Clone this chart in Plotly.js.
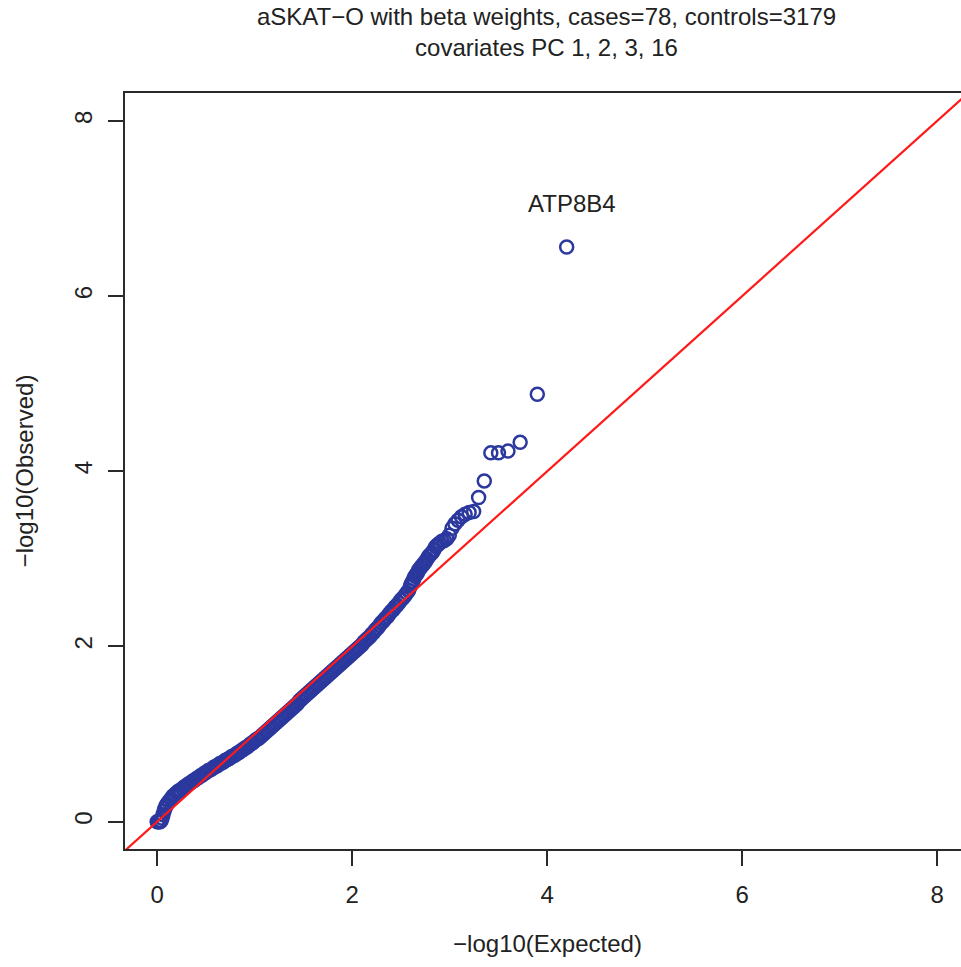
<!DOCTYPE html>
<html>
<head>
<meta charset="utf-8">
<script src="https://cdn.plot.ly/plotly-3.0.1.min.js"></script>
<style>
html, body { margin: 0; padding: 0; overflow: hidden; background: #fff; }
#chart { width: 975px; height: 967px; }
</style>
</head>
<body>
<div id="chart"></div>
<script>
// Dense part of the QQ band: expected vs observed -log10(p)
const denseExpected = [
  0.00,0.01,0.02,0.03,0.04,0.05,0.06,0.07,0.08,0.09,
  0.10,0.12,0.14,0.16,0.18,
  0.20,0.22,0.24,0.26,0.28,0.30,0.32,0.34,0.36,0.38,
  0.40,0.42,0.44,0.46,0.48,0.50,0.52,0.54,0.56,0.58,
  0.60,0.62,0.64,0.66,0.68,0.70,0.72,0.74,0.76,0.78,
  0.80,0.82,0.84,0.86,0.88,0.90,0.92,0.94,0.96,0.98,
  1.00,1.02,1.04,1.06,1.08,1.10,1.12,1.14,1.16,1.18,
  1.20,1.22,1.24,1.26,1.28,1.30,1.32,1.34,1.36,1.38,
  1.40,1.42,1.44,1.46,1.48,1.50,1.52,1.54,1.56,1.58,
  1.60,1.62,1.64,1.66,1.68,1.70,1.72,1.74,1.76,1.78,
  1.80,1.82,1.84,1.86,1.88,1.90,1.92,1.94,1.96,1.98,
  2.00,2.02,2.04,2.06,2.08,2.10,2.12,2.14,2.16,2.18,
  2.20,2.22,2.24,2.26,2.28,2.30,2.32,2.34,2.36,2.38,
  2.40,2.42,2.44,2.46,2.48,2.50,2.52,2.54,2.56,2.58
];
const denseObserved = [
  0.00,0.00,0.00,0.00,0.01,0.04,0.08,0.12,0.15,0.18,
  0.20,0.23,0.26,0.29,0.31,
  0.33,0.35,0.36,0.38,0.40,0.41,0.43,0.44,0.46,0.47,
  0.49,0.50,0.52,0.53,0.55,0.56,0.58,0.59,0.60,0.62,
  0.63,0.64,0.66,0.67,0.68,0.70,0.71,0.72,0.74,0.75,
  0.76,0.78,0.79,0.81,0.82,0.84,0.85,0.87,0.89,0.90,
  0.92,0.94,0.95,0.97,0.99,1.01,1.03,1.05,1.07,1.09,
  1.11,1.13,1.15,1.17,1.19,1.21,1.23,1.25,1.27,1.29,
  1.31,1.33,1.35,1.38,1.40,1.42,1.44,1.46,1.48,1.50,
  1.52,1.54,1.56,1.58,1.60,1.62,1.64,1.66,1.68,1.70,
  1.72,1.74,1.76,1.78,1.80,1.82,1.84,1.86,1.88,1.90,
  1.92,1.94,1.96,1.98,2.00,2.02,2.05,2.07,2.09,2.11,
  2.14,2.16,2.19,2.21,2.24,2.27,2.29,2.32,2.34,2.37,
  2.40,2.42,2.45,2.47,2.50,2.53,2.55,2.58,2.61,2.64
];
// Top-ranked genes (rank 1..40)
const tailExpected = [
  4.200,3.899,3.723,3.598,3.501,3.422,3.355,3.297,3.246,3.200,
  3.159,3.121,3.086,3.054,3.024,2.996,2.970,2.945,2.921,2.899,
  2.878,2.858,2.838,2.820,2.802,2.785,2.769,2.753,2.738,2.723,
  2.709,2.695,2.681,2.669,2.656,2.644,2.632,2.620,2.609,2.598
];
const tailObserved = [
  6.56,4.88,4.33,4.23,4.21,4.21,3.89,3.70,3.54,3.53,
  3.51,3.48,3.44,3.40,3.35,3.27,3.23,3.21,3.20,3.18,
  3.16,3.14,3.10,3.07,3.05,3.03,3.00,2.97,2.95,2.93,
  2.91,2.89,2.87,2.84,2.82,2.80,2.77,2.74,2.72,2.69
];
const topGene = "ATP8B4";
const topGeneLabelPos = [4.25, 7.06];
const identityLine = [-1, 10];
const tickVals = [0, 2, 4, 6, 8];
const tickText = ["0", "2", "4", "6", "8"];

const ptColor = "#2b389e";
const axisColor = "#2a2a2a";
const fontFam = "'Liberation Sans', Arial, Helvetica, sans-serif";

const traces = [
  {
    x: denseExpected.concat(tailExpected),
    y: denseObserved.concat(tailObserved),
    type: "scatter", mode: "markers",
    marker: { symbol: "circle-open", size: 13, color: ptColor, line: { width: 2.5, color: ptColor } },
    hoverinfo: "x+y", showlegend: false
  },
  {
    x: identityLine, y: identityLine,
    type: "scatter", mode: "lines",
    line: { color: "#ff1a1a", width: 2.2 },
    hoverinfo: "skip", showlegend: false
  }
];

const axisCommon = {
  showgrid: false, zeroline: false,
  showline: true, linecolor: axisColor, linewidth: 2, mirror: true,
  ticks: "outside", ticklen: 15, tickwidth: 2, tickcolor: axisColor,
  tickvals: tickVals, ticktext: tickText,
  tickfont: { family: fontFam, size: 24, color: "#222" }
};

const layout = {
  width: 975, height: 967,
  margin: { l: 125, r: 5, t: 93, b: 118 },
  paper_bgcolor: "#fff", plot_bgcolor: "#fff",
  font: { family: fontFam, color: "#222" },
  title: {
    text: "aSKAT−O with beta weights, cases=78, controls=3179<br>covariates PC 1, 2, 3, 16",
    font: { family: fontFam, size: 24, color: "#222" },
    x: 546.5 / 975, xanchor: "center",
    y: 0.974, yanchor: "top", yref: "container"
  },
  xaxis: Object.assign({}, axisCommon, {
    range: [-0.33, 8.337],
    ticklabelstandoff: 8,
    title: { text: "−log10(Expected)", font: { family: fontFam, size: 24, color: "#222" }, standoff: 28 }
  }),
  yaxis: Object.assign({}, axisCommon, {
    range: [-0.312, 8.318],
    tickangle: -90,
    ticklabelstandoff: 6,
    title: { text: "−log10(Observed)", font: { family: fontFam, size: 24, color: "#222" }, standoff: 30 }
  }),
  annotations: [{
    x: topGeneLabelPos[0], y: topGeneLabelPos[1], xref: "x", yref: "y",
    text: topGene, showarrow: false,
    font: { family: fontFam, size: 24, color: "#222" }
  }]
};

Plotly.newPlot("chart", traces, layout, { displayModeBar: false, staticPlot: true });
</script>
</body>
</html>
